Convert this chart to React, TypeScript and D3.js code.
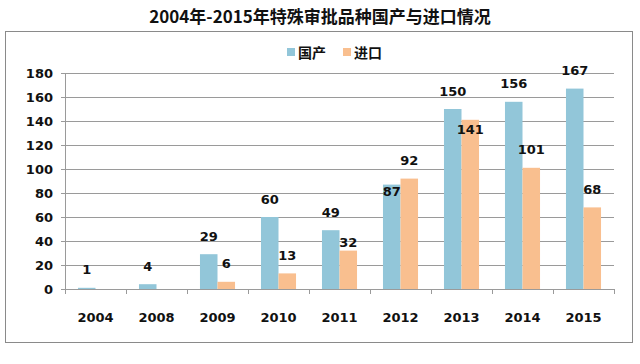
import React from 'react';
import * as d3 from 'd3';

const years = ['2004', '2008', '2009', '2010', '2011', '2012', '2013', '2014', '2015'];
const domestic = [1, 4, 29, 60, 49, 87, 150, 156, 167];
const imported = [0, 0, 6, 13, 32, 92, 141, 101, 68];
const yTicks = [0, 20, 40, 60, 80, 100, 120, 140, 160, 180];
const seriesNames = ['国产', '进口'];

// labels Excel dragged away from the default spot (extra vertical offset)
const domesticLabelShift = [0, 0, 0, 0, 0, 25, 0, 0, 0];
const importedLabelShift = [0, 0, 0, 0, 10, 0, 28, 0, 0];

const colors = ['#92C6D9', '#F9BF8F'];
const W = 640;
const H = 364;
const plot = { left: 65, right: 614, top: 73, bottom: 289 };
const font = '"DejaVu Sans", sans-serif';
const cjk = '"Noto Sans CJK SC", sans-serif';

const App = () => {
  const x0 = d3.scaleBand().domain(years).range([plot.left, plot.right]);
  const x1 = d3.scaleBand().domain(seriesNames).range([0, x0.bandwidth()]).paddingOuter(0.74);
  const y = d3.scaleLinear().domain([0, 180]).range([plot.bottom, plot.top]);

  const series = [domestic, imported];
  const shifts = [domesticLabelShift, importedLabelShift];
  const boundaries = years.map((yr) => x0(yr)).concat([plot.right]);

  return (
    <svg width={W} height={H} style={{ position: 'absolute', left: 0, top: 0 }}>
      <rect width={W} height={H} fill="#fff" />
      <text x={320} y={15} textAnchor="middle" dominantBaseline="central"
        fontFamily={cjk} fontWeight="bold" fontSize={17} fill="#111">
        2004年-2015年特殊审批品种国产与进口情况
      </text>
      <rect x={5.5} y={31.5} width={627} height={311} fill="none" stroke="#8a8a8a" strokeWidth={1} />

      {/* legend */}
      {seriesNames.map((name, i) => (
        <g key={name} transform={`translate(${287 + i * 56},52)`}>
          <rect x={0} y={-4} width={8} height={8} fill={colors[i]} />
          <text x={11} y={0} dominantBaseline="central" fontFamily={cjk}
            fontWeight="bold" fontSize={14} fill="#111">{name}</text>
        </g>
      ))}

      {/* gridlines + y labels */}
      {yTicks.map((t) => (
        <g key={t}>
          <line x1={plot.left - 4} x2={plot.right} y1={Math.round(y(t)) + 0.5} y2={Math.round(y(t)) + 0.5}
            stroke="#9a9a9a" strokeWidth={1} />
          <text x={53} y={y(t)} textAnchor="end" dominantBaseline="central"
            fontFamily={font} fontWeight="bold" fontSize={13} fill="#111">{t}</text>
        </g>
      ))}
      <line x1={plot.left + 0.5} x2={plot.left + 0.5} y1={plot.top} y2={plot.bottom} stroke="#9a9a9a" />
      {boundaries.map((bx, i) => (
        <line key={i} x1={Math.round(bx) + 0.5} x2={Math.round(bx) + 0.5} y1={plot.bottom} y2={plot.bottom + 5}
          stroke="#9a9a9a" />
      ))}

      {/* bars */}
      {series.map((vals, si) =>
        vals.map((v, i) => {
          const bx = (x0(years[i]) as number) + (x1(seriesNames[si]) as number);
          return v > 0 ? (
            <rect key={`${si}-${i}`} x={bx} y={y(v)} width={x1.bandwidth()}
              height={plot.bottom - y(v)} fill={colors[si]} />
          ) : null;
        })
      )}

      {/* value labels */}
      {series.map((vals, si) =>
        vals.map((v, i) => {
          if (v <= 0) return null;
          const cx = (x0(years[i]) as number) + (x1(seriesNames[si]) as number) + x1.bandwidth() / 2;
          return (
            <text key={`l${si}-${i}`} x={cx} y={y(v) - 18 + shifts[si][i]} textAnchor="middle"
              dominantBaseline="central" fontFamily={font} fontWeight="bold" fontSize={13} fill="#111">
              {v}
            </text>
          );
        })
      )}

      {/* x labels */}
      {years.map((yr) => (
        <text key={yr} x={(x0(yr) as number) + x0.bandwidth() / 2} y={317} textAnchor="middle"
          dominantBaseline="central" fontFamily={font} fontWeight="bold" fontSize={13} fill="#111">
          {yr}
        </text>
      ))}
    </svg>
  );
};

export default App;
